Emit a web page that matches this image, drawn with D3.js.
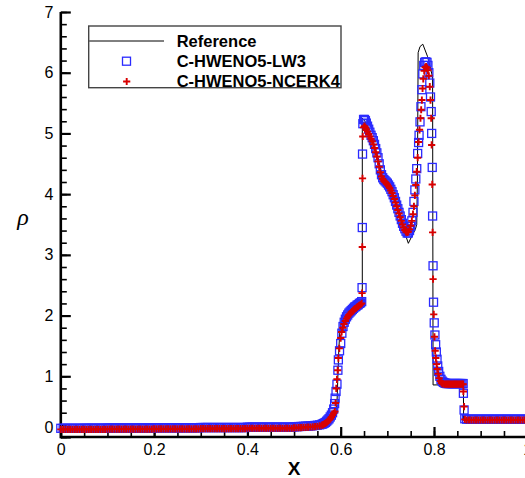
<!DOCTYPE html>
<html>
<head>
<meta charset="utf-8">
<script src="https://d3js.org/d3.v7.min.js"></script>
<style>
  body { margin: 0; background: #fff; }
  svg { display: block; font-family: "Liberation Sans", Arial, Helvetica, sans-serif; }
</style>
</head>
<body>
<script>
// ---- data: [x, rho] ----
var xTicks = [0, 0.2, 0.4, 0.6, 0.8, 1.0];
var yTicks = [0, 1, 2, 3, 4, 5, 6, 7];
var legendNames = ["Reference", "C-HWENO5-LW3", "C-HWENO5-NCERK4"];

var referenceLine = [
  [0, 0.135], [0.1, 0.14], [0.3, 0.15], [0.45, 0.155], [0.52, 0.17], [0.55, 0.185],
  [0.565, 0.21], [0.575, 0.25], [0.585, 0.3], [0.59, 0.36], [0.592, 0.55], [0.594, 1.0],
  [0.596, 1.45], [0.598, 1.72], [0.601, 1.86], [0.606, 1.93], [0.615, 2.0], [0.625, 2.08],
  [0.635, 2.15], [0.6463, 2.23], [0.6463, 5.25], [0.652, 5.2], [0.66, 5.05], [0.67, 4.86],
  [0.68, 4.6], [0.688, 4.33], [0.695, 4.22], [0.705, 4.11], [0.715, 3.94], [0.725, 3.7],
  [0.735, 3.45], [0.741, 3.28], [0.745, 3.19], [0.752, 3.3], [0.76, 3.42], [0.763, 3.5],
  [0.7645, 4.3], [0.7655, 5.6], [0.766, 6.33], [0.77, 6.43], [0.776, 6.47], [0.786, 6.27],
  [0.797, 5.93], [0.798, 0.857], [0.82, 0.86], [0.84, 0.87], [0.863, 0.88], [0.8635, 0.29],
  [1.0, 0.29]
];

var lw3Left = [
  [0,0.143],[0.005,0.143],[0.01,0.143],[0.015,0.143],[0.02,0.143],[0.025,0.143],[0.03,0.143],[0.035,0.143],[0.04,0.143],[0.045,0.143],
  [0.05,0.145],[0.055,0.145],[0.06,0.145],[0.065,0.145],[0.07,0.145],[0.075,0.145],[0.08,0.145],[0.085,0.145],[0.09,0.145],[0.095,0.145],
  [0.1,0.148],[0.105,0.148],[0.11,0.148],[0.115,0.148],[0.12,0.148],[0.125,0.148],[0.13,0.148],[0.135,0.148],[0.14,0.148],[0.145,0.148],
  [0.15,0.148],[0.155,0.148],[0.16,0.148],[0.165,0.148],[0.17,0.148],[0.175,0.148],[0.18,0.148],[0.185,0.148],[0.19,0.148],[0.195,0.148],
  [0.2,0.152],[0.205,0.152],[0.21,0.152],[0.215,0.152],[0.22,0.152],[0.225,0.152],[0.23,0.152],[0.235,0.152],[0.24,0.152],[0.245,0.152],
  [0.25,0.152],[0.255,0.152],[0.26,0.152],[0.265,0.152],[0.27,0.152],[0.275,0.152],[0.28,0.152],[0.285,0.152],[0.29,0.152],[0.295,0.152],
  [0.3,0.156],[0.305,0.156],[0.31,0.156],[0.315,0.156],[0.32,0.156],[0.325,0.156],[0.33,0.156],[0.335,0.156],[0.34,0.156],[0.345,0.156],
  [0.35,0.156],[0.355,0.156],[0.36,0.156],[0.365,0.156],[0.37,0.156],[0.375,0.156],[0.38,0.156],[0.385,0.156],[0.39,0.156],[0.395,0.156],
  [0.4,0.162],[0.405,0.162],[0.41,0.162],[0.415,0.162],[0.42,0.162],[0.425,0.162],[0.43,0.162],[0.435,0.162],[0.44,0.162],[0.445,0.162],
  [0.45,0.162],[0.455,0.162],[0.46,0.162],[0.465,0.162],[0.47,0.162],[0.475,0.162],[0.48,0.162],[0.485,0.162],[0.49,0.162],[0.495,0.162],
  [0.5,0.168],[0.505,0.17],[0.51,0.172],[0.515,0.174],[0.52,0.176],[0.525,0.178],[0.53,0.18],[0.535,0.183],[0.54,0.186],[0.545,0.19],
  [0.55,0.195],[0.555,0.2]
];

var lw3Mid = [
  [0.56,0.21],[0.5625,0.22],[0.565,0.23],[0.5675,0.24],[0.57,0.26],[0.5725,0.28],[0.575,0.3],[0.5775,0.33],[0.58,0.36],[0.5825,0.4],
  [0.585,0.46],[0.587,0.55],[0.588,0.64],[0.59,0.75],[0.592,0.87],[0.594,1.1],[0.595,1.27],[0.5975,1.42],[0.6,1.54],[0.6025,1.71],
  [0.605,1.82],[0.6075,1.89],[0.61,1.94],[0.6125,1.98],[0.615,2.01],[0.6175,2.04],[0.62,2.06],[0.6225,2.08],[0.625,2.1],[0.6275,2.12],
  [0.63,2.14],[0.6325,2.15],[0.635,2.17],[0.6375,2.18],[0.64,2.2],[0.6425,2.21],[0.645,2.23],
  [0.6458,2.46],[0.6463,3.45],[0.6468,4.66],[0.6475,5.16],
  [0.649,5.23],[0.651,5.23],[0.653,5.21],[0.655,5.17],[0.6575,5.12],[0.66,5.07],[0.6625,5.02],[0.665,4.97],[0.6675,4.93],[0.67,4.88],
  [0.6725,4.82],[0.675,4.75],[0.6775,4.68],[0.68,4.6],[0.6825,4.5],[0.685,4.4],[0.6875,4.32],[0.69,4.27],[0.6925,4.24],[0.695,4.22],
  [0.6975,4.2],[0.7,4.18],[0.7025,4.15],[0.705,4.12],[0.7075,4.08],[0.71,4.04],[0.7125,3.99],[0.715,3.94],[0.7175,3.88],[0.72,3.82],
  [0.7225,3.76],[0.725,3.7],[0.7275,3.64],[0.73,3.58],[0.7325,3.52],[0.735,3.47],[0.7375,3.43],[0.74,3.39],[0.7425,3.36],[0.745,3.36],
  [0.7475,3.4],[0.75,3.47],[0.7525,3.56],[0.755,3.7],[0.757,3.88],[0.759,4.07],[0.761,4.25],[0.763,4.42],[0.765,4.67],[0.767,4.85],
  [0.768,4.97],[0.77,5.19],[0.772,5.44],[0.774,5.72],[0.776,5.98],[0.778,6.12],[0.78,6.17],[0.7825,6.18],[0.785,6.17],[0.787,6.12],
  [0.789,6.0],[0.791,5.83],[0.7925,5.6],[0.794,5.36],[0.795,5.0],[0.7962,4.44],[0.797,3.64],[0.798,2.82],[0.799,2.22],[0.8005,1.88],
  [0.802,1.68],[0.8035,1.52],[0.805,1.4],[0.8065,1.28],[0.808,1.17],[0.81,1.08],[0.8125,1.0],[0.815,0.95],[0.8175,0.92],[0.82,0.9],
  [0.8225,0.89],[0.825,0.885],[0.8275,0.88],[0.83,0.88],[0.8325,0.88],[0.835,0.88],[0.8375,0.88],[0.84,0.88],[0.8425,0.88],[0.845,0.88],
  [0.8475,0.88],[0.85,0.88],[0.8525,0.88],[0.855,0.88],[0.8575,0.88],[0.86,0.88],[0.8625,0.88],
  [0.863,0.72],[0.8645,0.445],[0.866,0.3]
];

var lw3Right = [
  [0.87,0.293],[0.875,0.293],[0.88,0.293],[0.885,0.293],[0.89,0.293],[0.895,0.293],[0.9,0.293],[0.905,0.293],[0.91,0.293],[0.915,0.293],
  [0.92,0.293],[0.925,0.293],[0.93,0.293],[0.935,0.293],[0.94,0.293],[0.945,0.293],[0.95,0.293],[0.955,0.293],[0.96,0.293],[0.965,0.293],
  [0.97,0.293],[0.975,0.293],[0.98,0.293],[0.985,0.293],[0.99,0.293],[0.995,0.293],[1.0,0.293]
];

var ncerkLeft = [
  [0,0.125],[0.005,0.125],[0.01,0.125],[0.015,0.125],[0.02,0.125],[0.025,0.125],[0.03,0.125],[0.035,0.125],[0.04,0.125],[0.045,0.125],
  [0.05,0.127],[0.055,0.127],[0.06,0.127],[0.065,0.127],[0.07,0.127],[0.075,0.127],[0.08,0.127],[0.085,0.127],[0.09,0.127],[0.095,0.127],
  [0.1,0.13],[0.105,0.13],[0.11,0.13],[0.115,0.13],[0.12,0.13],[0.125,0.13],[0.13,0.13],[0.135,0.13],[0.14,0.13],[0.145,0.13],
  [0.15,0.13],[0.155,0.13],[0.16,0.13],[0.165,0.13],[0.17,0.13],[0.175,0.13],[0.18,0.13],[0.185,0.13],[0.19,0.13],[0.195,0.13],
  [0.2,0.134],[0.205,0.134],[0.21,0.134],[0.215,0.134],[0.22,0.134],[0.225,0.134],[0.23,0.134],[0.235,0.134],[0.24,0.134],[0.245,0.134],
  [0.25,0.134],[0.255,0.134],[0.26,0.134],[0.265,0.134],[0.27,0.134],[0.275,0.134],[0.28,0.134],[0.285,0.134],[0.29,0.134],[0.295,0.134],
  [0.3,0.138],[0.305,0.138],[0.31,0.138],[0.315,0.138],[0.32,0.138],[0.325,0.138],[0.33,0.138],[0.335,0.138],[0.34,0.138],[0.345,0.138],
  [0.35,0.138],[0.355,0.138],[0.36,0.138],[0.365,0.138],[0.37,0.138],[0.375,0.138],[0.38,0.138],[0.385,0.138],[0.39,0.138],[0.395,0.138],
  [0.4,0.144],[0.405,0.144],[0.41,0.144],[0.415,0.144],[0.42,0.144],[0.425,0.144],[0.43,0.144],[0.435,0.144],[0.44,0.144],[0.445,0.144],
  [0.45,0.144],[0.455,0.144],[0.46,0.144],[0.465,0.144],[0.47,0.144],[0.475,0.144],[0.48,0.144],[0.485,0.144],[0.49,0.144],[0.495,0.144],
  [0.5,0.15],[0.505,0.152],[0.51,0.154],[0.515,0.156],[0.52,0.158],[0.525,0.16],[0.53,0.162],[0.535,0.165],[0.54,0.168],[0.545,0.172],
  [0.55,0.177],[0.555,0.183]
];

var ncerkMid = [
  [0.56,0.195],[0.5625,0.205],[0.565,0.215],[0.5675,0.225],[0.57,0.24],[0.5725,0.26],[0.575,0.28],[0.5775,0.3],[0.58,0.33],[0.5825,0.36],
  [0.585,0.39],[0.5875,0.42],[0.589,0.56],[0.5905,0.8],[0.592,0.95],[0.5935,1.1],[0.595,1.3],[0.597,1.46],[0.6,1.63],[0.602,1.73],
  [0.6045,1.8],[0.607,1.86],[0.61,1.91],[0.6125,1.95],[0.615,1.98],[0.6175,2.01],[0.62,2.03],[0.6225,2.05],[0.625,2.07],[0.6275,2.09],
  [0.63,2.11],[0.6325,2.12],[0.635,2.14],[0.6375,2.15],[0.64,2.17],[0.6425,2.18],[0.645,2.2],
  [0.6458,2.37],[0.6463,3.13],[0.6468,4.26],[0.6473,4.95],
  [0.649,5.1],[0.651,5.12],[0.653,5.1],[0.655,5.07],[0.6575,5.03],[0.66,4.99],[0.6625,4.95],[0.665,4.91],[0.6675,4.87],[0.67,4.82],
  [0.6725,4.76],[0.675,4.69],[0.6775,4.62],[0.68,4.54],[0.6825,4.45],[0.685,4.36],[0.6875,4.29],[0.69,4.25],[0.6925,4.22],[0.695,4.2],
  [0.6975,4.18],[0.7,4.16],[0.7025,4.13],[0.705,4.1],[0.7075,4.06],[0.71,4.02],[0.7125,3.97],[0.715,3.92],[0.7175,3.86],[0.72,3.8],
  [0.7225,3.74],[0.725,3.68],[0.7275,3.62],[0.73,3.56],[0.7325,3.5],[0.735,3.45],[0.7375,3.41],[0.74,3.38],[0.7425,3.37],[0.745,3.38],
  [0.7475,3.42],[0.75,3.48],[0.7525,3.56],[0.755,3.67],[0.757,3.8],[0.759,3.98],[0.761,4.15],[0.763,4.37],[0.765,4.6],[0.767,4.86],
  [0.769,5.06],[0.771,5.25],[0.7725,5.39],[0.774,5.55],[0.7755,5.74],[0.777,5.9],[0.779,6.03],[0.781,6.09],[0.783,6.1],[0.785,6.08],
  [0.787,6.04],[0.789,5.95],[0.791,5.77],[0.7925,5.55],[0.794,5.25],[0.795,4.81],[0.7962,4.16],[0.797,3.37],[0.798,2.6],[0.7995,2.02],
  [0.801,1.65],[0.8025,1.42],[0.804,1.3],[0.8055,1.2],[0.807,1.12],[0.809,1.04],[0.811,0.97],[0.8135,0.92],[0.816,0.89],[0.8185,0.875],
  [0.8225,0.87],[0.825,0.87],[0.8275,0.87],[0.83,0.87],[0.8325,0.87],[0.835,0.87],[0.8375,0.87],[0.84,0.87],[0.8425,0.87],[0.845,0.87],
  [0.8475,0.87],[0.85,0.87],[0.8525,0.87],[0.855,0.87],[0.8575,0.87],[0.86,0.87],[0.8625,0.87],
  [0.863,0.75],[0.8645,0.5],[0.866,0.29]
];

var ncerkRight = [
  [0.87,0.28],[0.875,0.28],[0.88,0.28],[0.885,0.28],[0.89,0.28],[0.895,0.28],[0.9,0.28],[0.905,0.28],[0.91,0.28],[0.915,0.28],
  [0.92,0.28],[0.925,0.28],[0.93,0.28],[0.935,0.28],[0.94,0.28],[0.945,0.28],[0.95,0.28],[0.955,0.28],[0.96,0.28],[0.965,0.28],
  [0.97,0.28],[0.975,0.28],[0.98,0.28],[0.985,0.28],[0.99,0.28],[0.995,0.28],[1.0,0.28]
];

var lw3 = lw3Left.concat(lw3Mid, lw3Right);
var ncerk = ncerkLeft.concat(ncerkMid, ncerkRight);

// ---- setup ----
var width = 525, height = 478;
var blue = "#2a2aff", red = "#d80000";

var svg = d3.select("body").append("svg")
    .attr("width", width)
    .attr("height", height);

var x = d3.scaleLinear().domain([0, 1]).range([60.8, 527.3]);
var y = d3.scaleLinear().domain([0, 7]).range([437, 12]);

// minor ticks
svg.append("g")
    .attr("transform", "translate(0," + y(0) + ")")
    .call(d3.axisBottom(x).tickValues(d3.range(0, 1.0001, 0.05)).tickSize(-6).tickFormat(""))
    .call(function(g) { g.select(".domain").remove(); g.selectAll("line").attr("stroke-width", 1.6); });
svg.append("g")
    .attr("transform", "translate(" + x(0) + ",0)")
    .call(d3.axisLeft(y).tickValues(d3.range(0, 7.0001, 0.2)).tickSize(-6).tickFormat(""))
    .call(function(g) { g.select(".domain").remove(); g.selectAll("line").attr("stroke-width", 1.6); });

// major ticks + labels
var xAxis = svg.append("g")
    .attr("transform", "translate(0," + y(0) + ")")
    .call(d3.axisBottom(x).tickValues(xTicks).tickSize(-10).tickPadding(7)
      .tickFormat(function(d) { return (d === 0 || d === 1) ? String(d) : d.toFixed(1); }));
xAxis.select(".domain").remove();
xAxis.selectAll("line").attr("stroke-width", 2.2);
xAxis.selectAll("text").attr("font-size", 16).attr("font-family", "Liberation Sans, Arial, sans-serif").attr("fill", "#000");

var yAxis = svg.append("g")
    .attr("transform", "translate(" + x(0) + ",0)")
    .call(d3.axisLeft(y).tickValues(yTicks).tickSize(-10).tickPadding(7.5).tickFormat(d3.format("d")));
yAxis.select(".domain").remove();
yAxis.selectAll("line").attr("stroke-width", 2.2);
yAxis.selectAll("text").attr("font-size", 16).attr("font-family", "Liberation Sans, Arial, sans-serif").attr("fill", "#000");
yAxis.selectAll(".tick").filter(function(d) { return d === 0; }).select("text").attr("dy", "-0.28em");

// axis lines
svg.append("line").attr("x1", x(0)).attr("x2", width).attr("y1", y(0)).attr("y2", y(0))
    .attr("stroke", "#000").attr("stroke-width", 2.6);
svg.append("line").attr("x1", x(0)).attr("x2", x(0)).attr("y1", y(0) + 1.3).attr("y2", y(7))
    .attr("stroke", "#000").attr("stroke-width", 2.6);

// axis titles
svg.append("text").attr("x", 294).attr("y", 475)
    .attr("text-anchor", "middle").attr("font-size", 19).attr("font-weight", "bold").text("X");
svg.append("text").attr("x", 23).attr("y", 225)
    .attr("text-anchor", "middle").attr("font-size", 24).attr("font-style", "italic")
    .attr("font-family", "Liberation Serif, 'Times New Roman', serif").text("ρ");

// reference line
svg.append("path")
    .datum(referenceLine)
    .attr("fill", "none").attr("stroke", "#000").attr("stroke-width", 1)
    .attr("d", d3.line().x(function(d) { return x(d[0]); }).y(function(d) { return y(d[1]); }));

// LW3 squares
svg.append("g").selectAll("rect")
    .data(lw3).enter().append("rect")
    .attr("x", function(d) { return x(d[0]) - 4; })
    .attr("y", function(d) { return y(d[1]) - 4; })
    .attr("width", 8).attr("height", 8)
    .attr("fill", "none").attr("stroke", blue).attr("stroke-width", 1.3);

// NCERK4 pluses
var plus = "M-3.6,0H3.6M0,-3.6V3.6";
svg.append("g").selectAll("path")
    .data(ncerk).enter().append("path")
    .attr("transform", function(d) { return "translate(" + x(d[0]) + "," + y(d[1]) + ")"; })
    .attr("d", plus)
    .attr("fill", "none").attr("stroke", red).attr("stroke-width", 1.9);

// legend
var lg = svg.append("g");
lg.append("rect").attr("x", 88.7).attr("y", 26).attr("width", 252.3).attr("height", 61.7)
    .attr("fill", "#fff").attr("stroke", "#444").attr("stroke-width", 1.4);
lg.append("line").attr("x1", 89.3).attr("x2", 164).attr("y1", 41).attr("y2", 41)
    .attr("stroke", "#000").attr("stroke-width", 1);
lg.append("rect").attr("x", 126.5 - 4).attr("y", 61.2 - 4).attr("width", 8).attr("height", 8)
    .attr("fill", "none").attr("stroke", blue).attr("stroke-width", 1.3);
lg.append("path").attr("transform", "translate(126.7,81.5)").attr("d", plus)
    .attr("fill", "none").attr("stroke", red).attr("stroke-width", 1.9);
var legendY = [46.6, 67.2, 87.2];
lg.selectAll("text.lab").data(legendNames).enter().append("text")
    .attr("class", "lab")
    .attr("x", 176.7)
    .attr("y", function(d, i) { return legendY[i]; })
    .attr("font-size", 16.5).attr("font-weight", "bold")
    .text(function(d) { return d; });
</script>
</body>
</html>
